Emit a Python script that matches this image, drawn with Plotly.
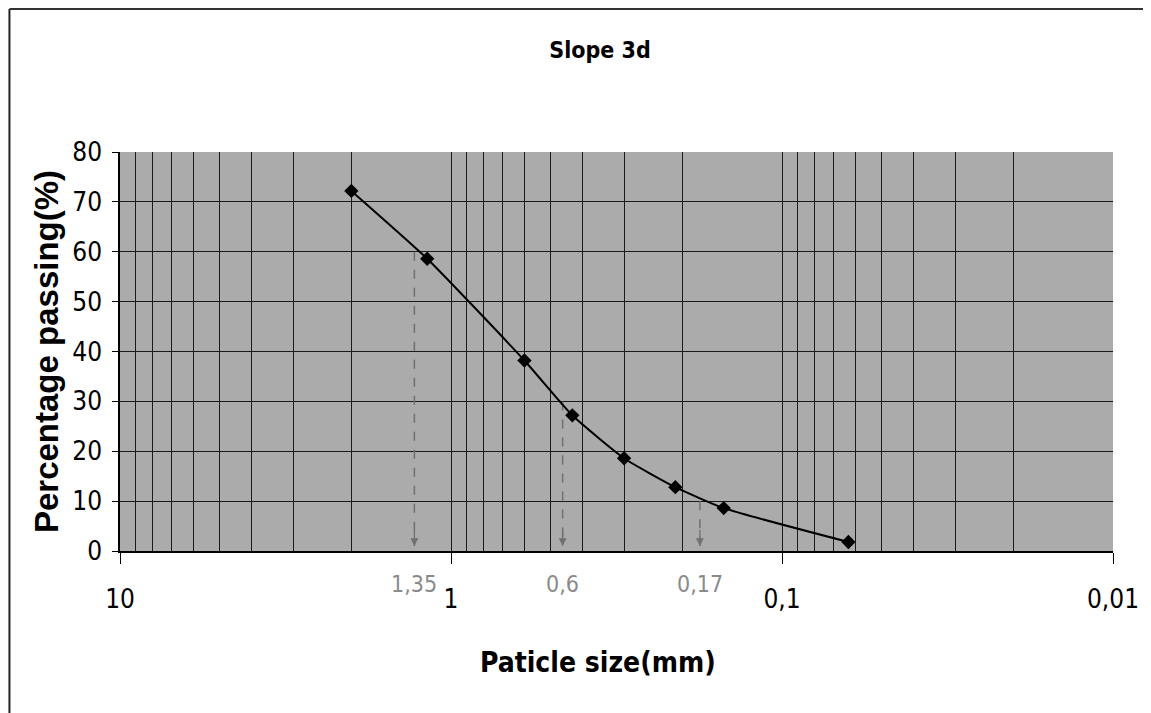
import math
import plotly.graph_objects as go

# ---- data ----
particle_size = [2.0, 1.18, 0.6, 0.43, 0.3, 0.21, 0.15, 0.063]
percent_passing = [72.2, 58.6, 38.2, 27.2, 18.6, 12.8, 8.6, 1.8]

major_ticks = [10, 1, 0.1, 0.01]
major_labels = ["10", "1", "0,1", "0,01"]
minor_ticks = [m * d for d in (1, 0.1, 0.01) for m in range(2, 10)]

y_ticks = [0, 10, 20, 30, 40, 50, 60, 70, 80]

# characteristic diameters (D60, D30, D10) and their labels
d_labels = ["1,35", "0,6", "0,17"]
d_line_x = [1.29, 0.46, 0.177]
d_line_y = [60, 30, 10]

title_text = "Slope 3d"
x_title = "Paticle size(mm)"
y_title = "Percentage passing(%)"

FONT = "Liberation Sans Narrow, DejaVu Sans Condensed, Liberation Sans, Arial, sans-serif"
WIDE = "Liberation Sans, Arial, sans-serif"

# page geometry (figure sits 8px inside the page)
FIG_W, FIG_H = 1143, 705
L, T, R, B = 112, 144, 34, 162
PW, PH = FIG_W - L - R, FIG_H - T - B   # 997 x 399


def px_to_paper_x(page_x):
    return (page_x - 8 - L) / PW


def px_to_paper_y(page_y):
    return (T + PH + 8 - page_y) / PH


fig = go.Figure()

# dashed gray drop lines for the D-values
for xv, yv in zip(d_line_x, d_line_y):
    fig.add_trace(go.Scatter(
        x=[xv, xv], y=[yv, 1.0], mode="lines",
        line=dict(color="#707070", width=1.5, dash="dash"),
        hoverinfo="skip", showlegend=False))

fig.add_trace(go.Scatter(
    x=particle_size, y=percent_passing, mode="lines+markers",
    line=dict(color="black", width=2, shape="spline", smoothing=0.5),
    marker=dict(symbol="diamond", size=11, color="black"),
    showlegend=False))

annotations = []
for xv, lab in zip(d_line_x, d_labels):
    lx = math.log10(xv)
    annotations.append(dict(
        x=lx, y=1.0, xref="x", yref="y", ax=lx, ay=4.5, axref="x", ayref="y",
        showarrow=True, arrowhead=2, arrowsize=1.2, arrowwidth=1.3,
        arrowcolor="#707070", text=""))
    annotations.append(dict(
        x=lx, y=px_to_paper_y(584), xref="x", yref="paper", text=lab,
        showarrow=False,
        font=dict(family=FONT, size=23, color="#8a8a8a"),
        xanchor="center", yanchor="middle"))

annotations.append(dict(
    x=px_to_paper_x(600), y=px_to_paper_y(662), xref="paper", yref="paper",
    text=x_title, showarrow=False, xanchor="center", yanchor="middle",
    font=dict(family=FONT, size=28, color="black", weight="bold")))

fig.update_layout(
    width=FIG_W, height=FIG_H,
    margin=dict(l=L, r=R, t=T, b=B),
    paper_bgcolor="white",
    plot_bgcolor="#ababab",
    title=dict(text=title_text, x=px_to_paper_x(602), xref="paper",
               xanchor="center", y=1 - (50 - 8) / FIG_H, yanchor="middle",
               font=dict(family=FONT, size=23, color="black", weight="bold")),
    xaxis=dict(
        type="log", range=[1, -2], autorange=False,
        tickvals=major_ticks, ticktext=major_labels,
        ticks="outside", ticklen=11, tickwidth=1, tickcolor="black",
        ticklabelstandoff=13,
        tickfont=dict(family=FONT, size=26, color="black"),
        showgrid=True, gridcolor="#1a1a1a", gridwidth=1,
        minor=dict(tickvals=minor_ticks, showgrid=True,
                   gridcolor="#1a1a1a", gridwidth=1, ticks=""),
        showline=True, linecolor="black", linewidth=1.5,
        zeroline=False,
    ),
    yaxis=dict(
        range=[0, 80], autorange=False, tickvals=y_ticks,
        ticks="outside", ticklen=6, tickwidth=1, tickcolor="black",
        ticklabelstandoff=5,
        tickfont=dict(family=FONT, size=26, color="black"),
        showgrid=True, gridcolor="#1a1a1a", gridwidth=1.3,
        showline=True, linecolor="black", linewidth=1.5,
        zeroline=False,
        title=dict(text=y_title, standoff=4,
                   font=dict(family=WIDE, size=33, color="black", weight="bold")),
    ),
    annotations=annotations,
    shapes=[
        dict(type="line", xref="paper", yref="paper",
             x0=px_to_paper_x(9), x1=px_to_paper_x(9),
             y0=px_to_paper_y(9), y1=px_to_paper_y(713),
             line=dict(color="#222", width=2)),
        dict(type="line", xref="paper", yref="paper",
             x0=px_to_paper_x(9), x1=px_to_paper_x(1151),
             y0=px_to_paper_y(9), y1=px_to_paper_y(9),
             line=dict(color="#333", width=2)),
    ],
)

fig.write_html("out.html")
